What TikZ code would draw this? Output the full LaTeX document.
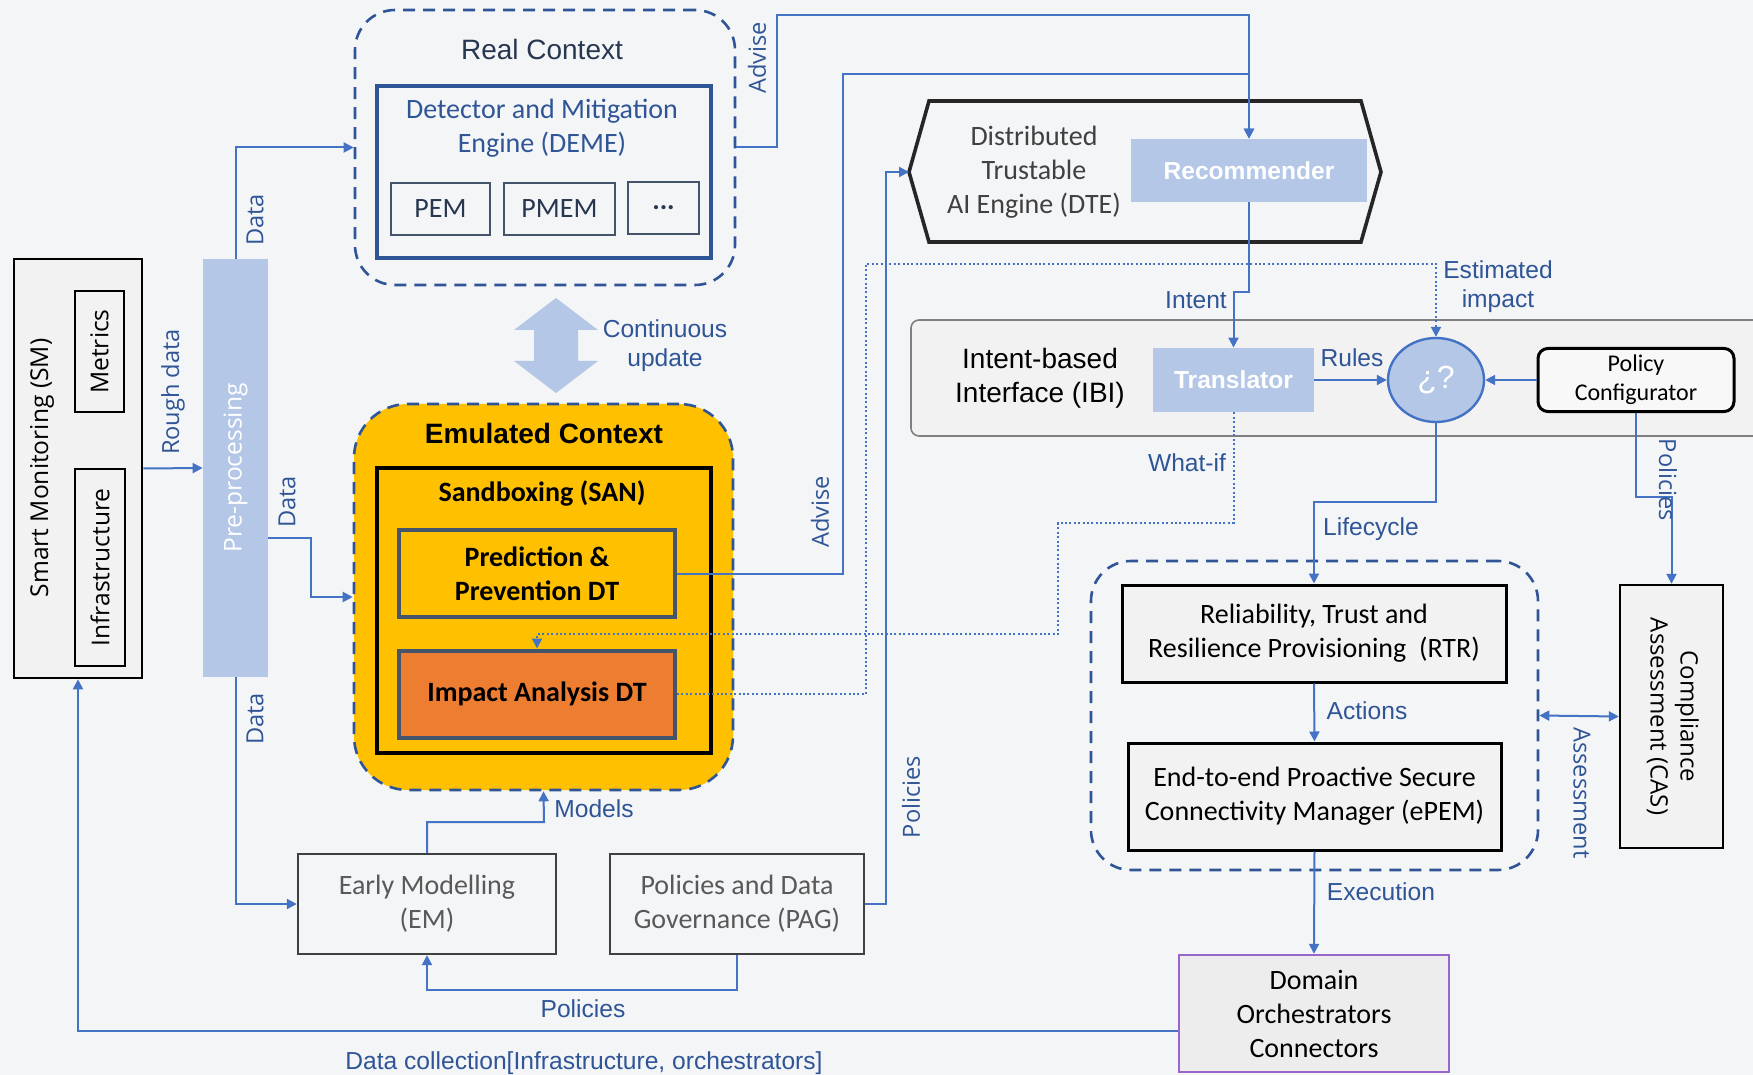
\documentclass[tikz,border=0pt]{standalone}
\usepackage{fontspec}
\setmainfont{Carlito}
\newfontfamily\arialf{Liberation Sans}
\newfontfamily\segf{Open Sans}
\usetikzlibrary{arrows.meta,shapes.geometric}

\definecolor{bgc}{RGB}{244,245,247}
\definecolor{linec}{RGB}{68,114,196}
\definecolor{lblc}{RGB}{47,85,151}
\definecolor{lightb}{RGB}{180,199,231}
\definecolor{dashc}{RGB}{47,85,151}
\definecolor{amber}{RGB}{255,192,0}
\definecolor{rust}{RGB}{237,125,49}
\definecolor{boxg}{RGB}{242,242,242}
\definecolor{slate}{RGB}{68,84,106}
\definecolor{purp}{RGB}{153,102,204}
\definecolor{txtg}{RGB}{89,89,89}
\definecolor{titc}{RGB}{40,55,80}
\definecolor{panelc}{RGB}{127,127,127}

\tikzstyle{box} = [draw=black, fill=boxg, line width=1.3pt, align=center, inner sep=2pt, font=\fontsize{14}{17}\selectfont]
\tikzstyle{grp} = [draw=dashc, line width=1.3pt, dash pattern=on 6pt off 4pt, rounded corners=20pt]
\tikzstyle{lbl} = [text=lblc, font=\arialf\fontsize{12.3}{14.5}\selectfont, align=center, inner sep=1pt]
\tikzstyle{slbl} = [text=lblc, font=\segf\fontsize{11.8}{14}\selectfont, inner sep=1pt]
\tikzstyle{fillb} = [fill=lightb, text=white, font=\arialf\bfseries\fontsize{12.3}{15}\selectfont]
\tikzstyle{dtbox} = [draw=slate, line width=2pt, fill=amber, minimum width=138pt, minimum height=43.5pt, align=center, font=\bfseries\fontsize{14}{17}\selectfont]
\tikzstyle{conn} = [draw=linec, line width=1pt, -{Triangle[length=5pt,width=5pt]}]
\tikzstyle{dotconn} = [conn, dash pattern=on 1pt off 1.2pt]

\begin{document}
\begin{tikzpicture}[x=0.5pt, y=-0.5pt]
\fill[bgc] (0,0) rectangle (1753,1075);
\useasboundingbox (0,0) rectangle (1753,1075);

% monitoring and pre-processing
\node[box, minimum width=64pt, minimum height=209.5pt] (sm) at (78,468.5) {};
\node[rotate=90, font=\segf\fontsize{12.3}{15}\selectfont] (smt) at (42,468) {Smart Monitoring (SM)};
\node[box, minimum width=24.5pt, minimum height=60.5pt, font=\segf\fontsize{12.3}{15}\selectfont] (met) at (99.5,351.5) {\rotatebox{90}{Metrics}};
\node[box, minimum width=25pt, minimum height=98.5pt, font=\segf\fontsize{12.3}{15}\selectfont] (inf) at (100,567.5) {\rotatebox{90}{Infrastructure}};
\node[fillb, minimum width=32.5pt, minimum height=209pt, font=\segf\fontsize{12.3}{15}\selectfont] (pre) at (235.5,468) {\rotatebox{90}{Pre-processing}};

% real context
\node[grp, minimum width=190pt, minimum height=137.5pt] (real) at (545,147.5) {};
\node[text=titc, font=\arialf\fontsize{14}{17}\selectfont] (realt) at (542,49) {Real Context};
\node[draw=dashc, line width=2pt, minimum width=167pt, minimum height=86pt] (deme) at (544,172) {};
\node[text=lblc, align=center, font=\fontsize{14}{17}\selectfont] (demet) at (542,128) {Detector and Mitigation\\Engine (DEME)};
\node[box, fill=none, draw=slate, line width=1.2pt, text=titc, minimum width=49.5pt, minimum height=26pt] (pem) at (440.5,209) {PEM};
\node[box, fill=none, draw=slate, line width=1.2pt, text=titc, minimum width=55.5pt, minimum height=26pt] (pmem) at (559.5,209) {PMEM};
\node[box, fill=none, draw=slate, line width=1.2pt, text=titc, minimum width=35.5pt, minimum height=26pt] (more) at (663.5,208) {\textbf{...}};

\fill[lightb] (556,298) -- (598,330) -- (578,330) -- (578,361) -- (598,361) -- (556,393)
  -- (514,361) -- (534,361) -- (534,330) -- (514,330) -- cycle;
\node[lbl] (cupd) at (665,346) {Continuous\\update};

% emulated context
\node[grp, fill=amber, rounded corners=27pt, minimum width=189.5pt, minimum height=193pt] (emu) at (543.5,597) {};
\node[font=\arialf\bfseries\fontsize{14}{17}\selectfont] (emut) at (544,433) {Emulated Context};
\node[draw=black, line width=2pt, minimum width=167pt, minimum height=142.5pt] (san) at (544,610.5) {};
\node[font=\bfseries\fontsize{14}{17}\selectfont] (sant) at (542,493) {Sandboxing (SAN)};
\node[dtbox] (ppdt) at (537,573.5) {Prediction \&\\Prevention DT};
\node[dtbox, fill=rust] (iadt) at (537,694) {Impact Analysis DT};

\node[box, fill=bgc, draw=black!75, line width=1.2pt, text=txtg, minimum width=129pt, minimum height=50pt] (em) at (427,904) {Early Modelling\\(EM)};
\node[box, fill=bgc, draw=black!75, line width=1.2pt, text=txtg, minimum width=127pt, minimum height=50pt] (pag) at (737,904) {Policies and Data\\Governance (PAG)};

% DTE
\draw[line width=1.8pt, draw=black!85, fill=bgc] (909,172) -- (929,101) -- (1361,101) -- (1381,172)
  -- (1361,242) -- (929,242) -- cycle;
\coordinate (dtew) at (909,172);
\node[align=center, text=black!75, font=\fontsize{14}{17}\selectfont] (dtet) at (1034,172) {Distributed\\Trustable\\AI Engine (DTE)};
\node[fillb, minimum width=118pt, minimum height=31.5pt] (rec) at (1249,170.5) {Recommender};

% IBI
\node[draw=panelc, fill=boxg, rounded corners=4pt, line width=0.8pt, minimum width=432pt, minimum height=58pt] (ibi) at (1343,378) {};
\node[align=center, font=\arialf\fontsize{14}{17}\selectfont] (ibit) at (1040,378) {Intent-based\\Interface (IBI)};
\node[fillb, minimum width=80.5pt, minimum height=32pt] (trans) at (1233.5,380) {Translator};
\node[ellipse, draw=linec, line width=1.2pt, fill=lightb, minimum width=48pt, minimum height=42pt, inner sep=0pt, text=white, font=\arialf\fontsize{16}{18}\selectfont] (chk) at (1436,380) {¿?};
\node[draw=black, fill=boxg!50!white, rounded corners=5pt, line width=1.5pt, minimum width=98pt, minimum height=29pt, align=center, font=\fontsize{12}{14.5}\selectfont] (pc) at (1636,380) {Policy\\Configurator};

% RTR / ePEM
\node[grp, minimum width=223.5pt, minimum height=154.5pt] (rtrg) at (1314.5,715.5) {};
\node[box, line width=1.5pt, minimum width=192pt, minimum height=48.5pt] (rtr) at (1314,633.5) {Reliability, Trust and\\Resilience Provisioning~ (RTR)};
\node[box, line width=1.5pt, minimum width=186.5pt, minimum height=53.5pt] (epem) at (1314.5,796.5) {End-to-end Proactive Secure\\Connectivity Manager (ePEM)};
\node[box, line width=1.2pt, minimum width=51.5pt, minimum height=131.5pt, font=\segf\fontsize{12}{15}\selectfont] (cas) at (1671.5,716.5) {\rotatebox{-90}{\begin{tabular}{@{}c@{}}Compliance\\Assessment (CAS)\end{tabular}}};
\node[box, draw=purp, line width=1.2pt, fill=black!7, minimum width=135pt, minimum height=58.5pt] (dom) at (1314,1013.5) {Domain\\Orchestrators\\Connectors};

% connectors
\draw[conn] (sm.east) -- (pre.west);
\node[slbl, rotate=90] (lrough) at (173,392) {Rough data};
\draw[conn] (pre.north) |- (real.west);
\node[slbl, rotate=90] (ldata1) at (255,220) {Data};
\draw[conn] (pre.east |- 0,538) -- (311,538) |- (emu.west);
\node[slbl, rotate=90] (ldata2) at (287,502) {Data};
\draw[conn] (pre.south) |- (em.west);
\node[slbl, rotate=90] (ldata3) at (255,719) {Data};
\draw[conn] (em.north) |- (544,822) -- (emu.south);
\node[lbl] (lmod) at (594,809) {Models};
\draw[conn] (pag.south) |- (427,990) -- (em.south);
\node[lbl] (lpol1) at (583,1009) {Policies};
\draw[conn] (pag.east) -- (886,904) |- (dtew);
\node[slbl, rotate=90] (lpol2) at (911,797) {Policies};
\draw[conn] (real.east) -- (777,147.5) |- (1249,15) -- (rec.north);
\node[slbl, rotate=90] (ladv1) at (757,58) {Advise};
\draw[conn] (ppdt.east) -- (843,573.5) |- (1249,74) -- (rec.north);
\node[slbl, rotate=90] (ladv2) at (820,512) {Advise};
\draw[conn] (rec.south) -- (1249,292) -- (1233.5,292) -- (trans.north);
\node[lbl] (lint) at (1196,300) {Intent};
\draw[conn] (trans.east) -- (chk.west);
\node[lbl] (lrul) at (1352,358) {Rules};
\draw[conn] (pc.west) -- (chk.east);
\draw[dotconn] (iadt.east) -- (866,694) |- (1436,264) -- (chk.north);
\node[lbl] (lest) at (1498,287) {Estimated\\impact};
\draw[dotconn] (trans.south) |- (1058,523) |- (537,634) -- (iadt.north);
\node[lbl] (lwhat) at (1187,463) {What-if};
\draw[conn] (chk.south) |- (1314,502) -- (rtr.north);
\node[lbl] (llife) at (1371,529) {Lifecycle};
\draw[conn] (pc.south) |- (1671.5,497) -- (cas.north);
\node[slbl, rotate=-90] (lpol3) at (1668,480) {Policies};
\draw[conn] (rtr.south) -- (epem.north);
\node[lbl] (lact) at (1367,711) {Actions};
\draw[conn] (epem.south) -- (dom.north);
\node[lbl] (lexe) at (1381,892) {Execution};
\draw[conn, {Triangle[length=5pt,width=5pt]}-{Triangle[length=5pt,width=5pt]}] (rtrg.east) -- (cas.west);
\node[slbl, rotate=-90] (lass) at (1582,793) {Assessment};
\draw[conn] (dom.west |- 0,1031) -| (sm.south);
\node[lbl] (lcol) at (584,1063) {Data collection[Infrastructure, orchestrators]};
\end{tikzpicture}
\end{document}
